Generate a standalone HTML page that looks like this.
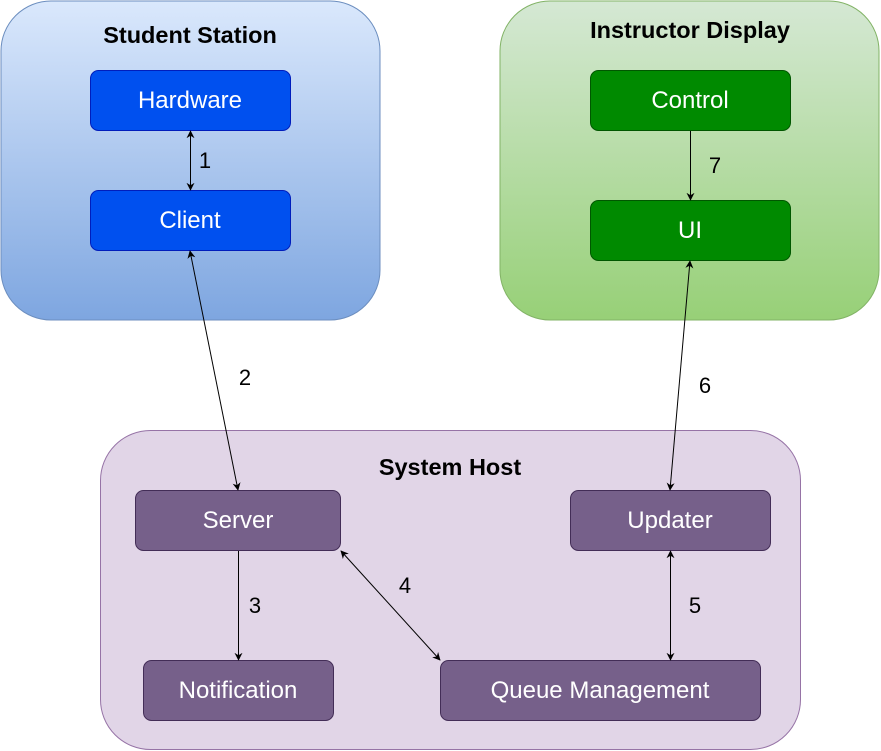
<!DOCTYPE html>
<html><head><meta charset="utf-8"><style>html,body{margin:0;padding:0;background:#fff}svg{display:block}</style></head><body>
<svg width="881" height="751" viewBox="0 0 881 751" xmlns="http://www.w3.org/2000/svg" font-family="Liberation Sans, Arial, sans-serif">
<defs>
<linearGradient id="gb" x1="0" y1="0" x2="0" y2="1"><stop offset="0" stop-color="#dae8fc"/><stop offset="1" stop-color="#7ea6e0"/></linearGradient>
<linearGradient id="gg" x1="0" y1="0" x2="0" y2="1"><stop offset="0" stop-color="#d5e8d4"/><stop offset="1" stop-color="#97d077"/></linearGradient>
<marker id="a" viewBox="0 0 10 10" refX="9" refY="5" markerWidth="8" markerHeight="8" orient="auto-start-reverse" markerUnits="userSpaceOnUse"><path d="M0,0 L10,5 L0,10 L3,5 z" fill="#000"/></marker>
</defs>
<rect x="1" y="1" width="379" height="319" rx="50" fill="url(#gb)" stroke="#6c8ebf"/>
<rect x="500" y="1" width="379" height="319" rx="50" fill="url(#gg)" stroke="#82b366"/>
<rect x="100.5" y="430.5" width="700" height="319" rx="50" fill="#e1d5e7" stroke="#9673a6"/>
<g font-weight="bold" font-size="23.5" text-anchor="middle" fill="#000">
<text x="190" y="43">Student Station</text>
<text x="690" y="38">Instructor Display</text>
<text x="450" y="475">System Host</text>
</g>
<g stroke-width="1">
<rect x="90.5" y="70.5" width="200" height="60" rx="8" fill="#0050ef" stroke="#001dbc"/>
<rect x="90.5" y="190.5" width="200" height="60" rx="8" fill="#0050ef" stroke="#001dbc"/>
<rect x="590.5" y="70.5" width="200" height="60" rx="8" fill="#008a00" stroke="#005700"/>
<rect x="590.5" y="200.5" width="200" height="60" rx="8" fill="#008a00" stroke="#005700"/>
<rect x="135.5" y="490.5" width="205" height="60" rx="8" fill="#76608a" stroke="#432d57"/>
<rect x="570.5" y="490.5" width="200" height="60" rx="8" fill="#76608a" stroke="#432d57"/>
<rect x="143.5" y="660.5" width="190" height="60" rx="8" fill="#76608a" stroke="#432d57"/>
<rect x="440.5" y="660.5" width="320" height="60" rx="8" fill="#76608a" stroke="#432d57"/>
</g>
<g font-size="24" text-anchor="middle" fill="#fff">
<text x="190" y="108">Hardware</text>
<text x="190" y="228">Client</text>
<text x="690" y="108">Control</text>
<text x="690" y="238">UI</text>
<text x="238" y="528">Server</text>
<text x="670" y="528">Updater</text>
<text x="238" y="698">Notification</text>
<text x="600" y="698">Queue Management</text>
</g>
<g stroke="#000" stroke-width="1" fill="none">
<line x1="190.5" y1="131" x2="190.5" y2="190" marker-start="url(#a)" marker-end="url(#a)"/>
<line x1="190" y1="251" x2="238" y2="490" marker-start="url(#a)" marker-end="url(#a)"/>
<line x1="238.5" y1="551" x2="238.5" y2="660" marker-end="url(#a)"/>
<line x1="341" y1="551" x2="440" y2="660" marker-start="url(#a)" marker-end="url(#a)"/>
<line x1="670.5" y1="551" x2="670.5" y2="660" marker-start="url(#a)" marker-end="url(#a)"/>
<line x1="690" y1="261" x2="670" y2="490" marker-start="url(#a)" marker-end="url(#a)"/>
<line x1="690.5" y1="131" x2="690.5" y2="200" marker-end="url(#a)"/>
</g>
<g font-size="22" fill="#000" text-anchor="middle">
<text x="205" y="168">1</text>
<text x="245" y="385">2</text>
<text x="255" y="613">3</text>
<text x="405" y="593">4</text>
<text x="695" y="613">5</text>
<text x="705" y="393">6</text>
<text x="715" y="173">7</text>
</g>
</svg>
</body></html>
